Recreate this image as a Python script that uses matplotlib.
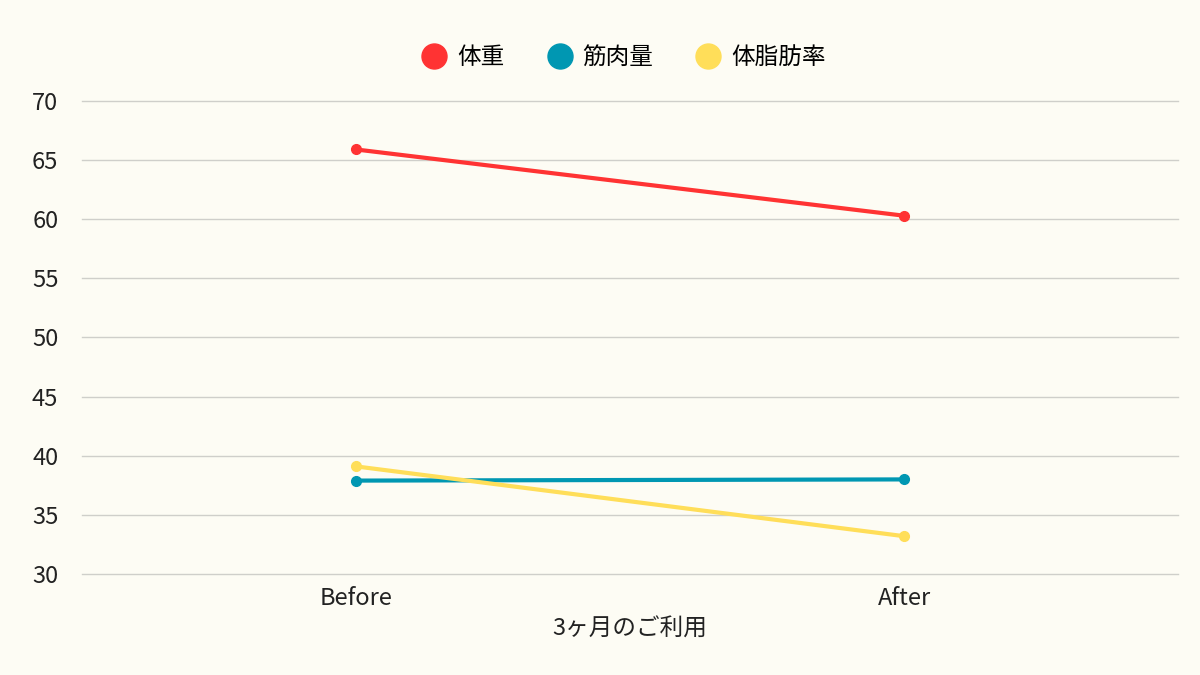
import matplotlib
matplotlib.use("Agg")
import matplotlib.pyplot as plt
from matplotlib.lines import Line2D

plt.rcParams['font.family'] = ['Noto Sans CJK JP', 'DejaVu Sans']

# data
categories = ['Before', 'After']
series_names = ['体重', '筋肉量', '体脂肪率']
weight = [65.9, 60.3]
muscle = [37.9, 38.0]
body_fat = [39.1, 33.2]
colors = ['#FF3333', '#0097B2', '#FFDE59']
x_label = '3ヶ月のご利用'
y_ticks = [30, 35, 40, 45, 50, 55, 60, 65, 70]

BG = '#FDFCF4'

fig = plt.figure(figsize=(12, 6.75), dpi=100, facecolor=BG)
ax = fig.add_axes([0.0683, 0.1496, 0.9134, 0.7008], facecolor=BG)

x = list(range(len(categories)))
for vals, col in zip([weight, muscle, body_fat], colors):
    ax.plot(x, vals, color=col, lw=3, marker='o', ms=7, solid_capstyle='round', zorder=3)

ax.set_xlim(-0.5, 1.5)
ax.set_ylim(30, 70)
ax.set_yticks(y_ticks)
ax.set_xticks(x)
ax.set_xticklabels(categories)
ax.tick_params(axis='both', length=0, labelsize=17, colors='#222222')
ax.tick_params(axis='y', pad=17)
ax.tick_params(axis='x', pad=9)
ax.set_xlabel(x_label, fontsize=17, color='#222222', labelpad=6)
ax.grid(axis='y', color='#CFCFCA', lw=1)
for gl in ax.get_ygridlines():
    gl.set_clip_on(False)
ax.set_axisbelow(True)
for s in ax.spines.values():
    s.set_visible(False)

# legend with big round dots
handles = [Line2D([], [], color=c, marker='o', ls='', ms=18) for c in colors]
fig.legend(handles, series_names, loc='center', bbox_to_anchor=(0.52, 0.915),
           ncol=3, frameon=False, fontsize=17, handletextpad=0.45,
           columnspacing=1.85, handlelength=1.0)

fig.savefig('out.png', dpi=100, facecolor=BG)
